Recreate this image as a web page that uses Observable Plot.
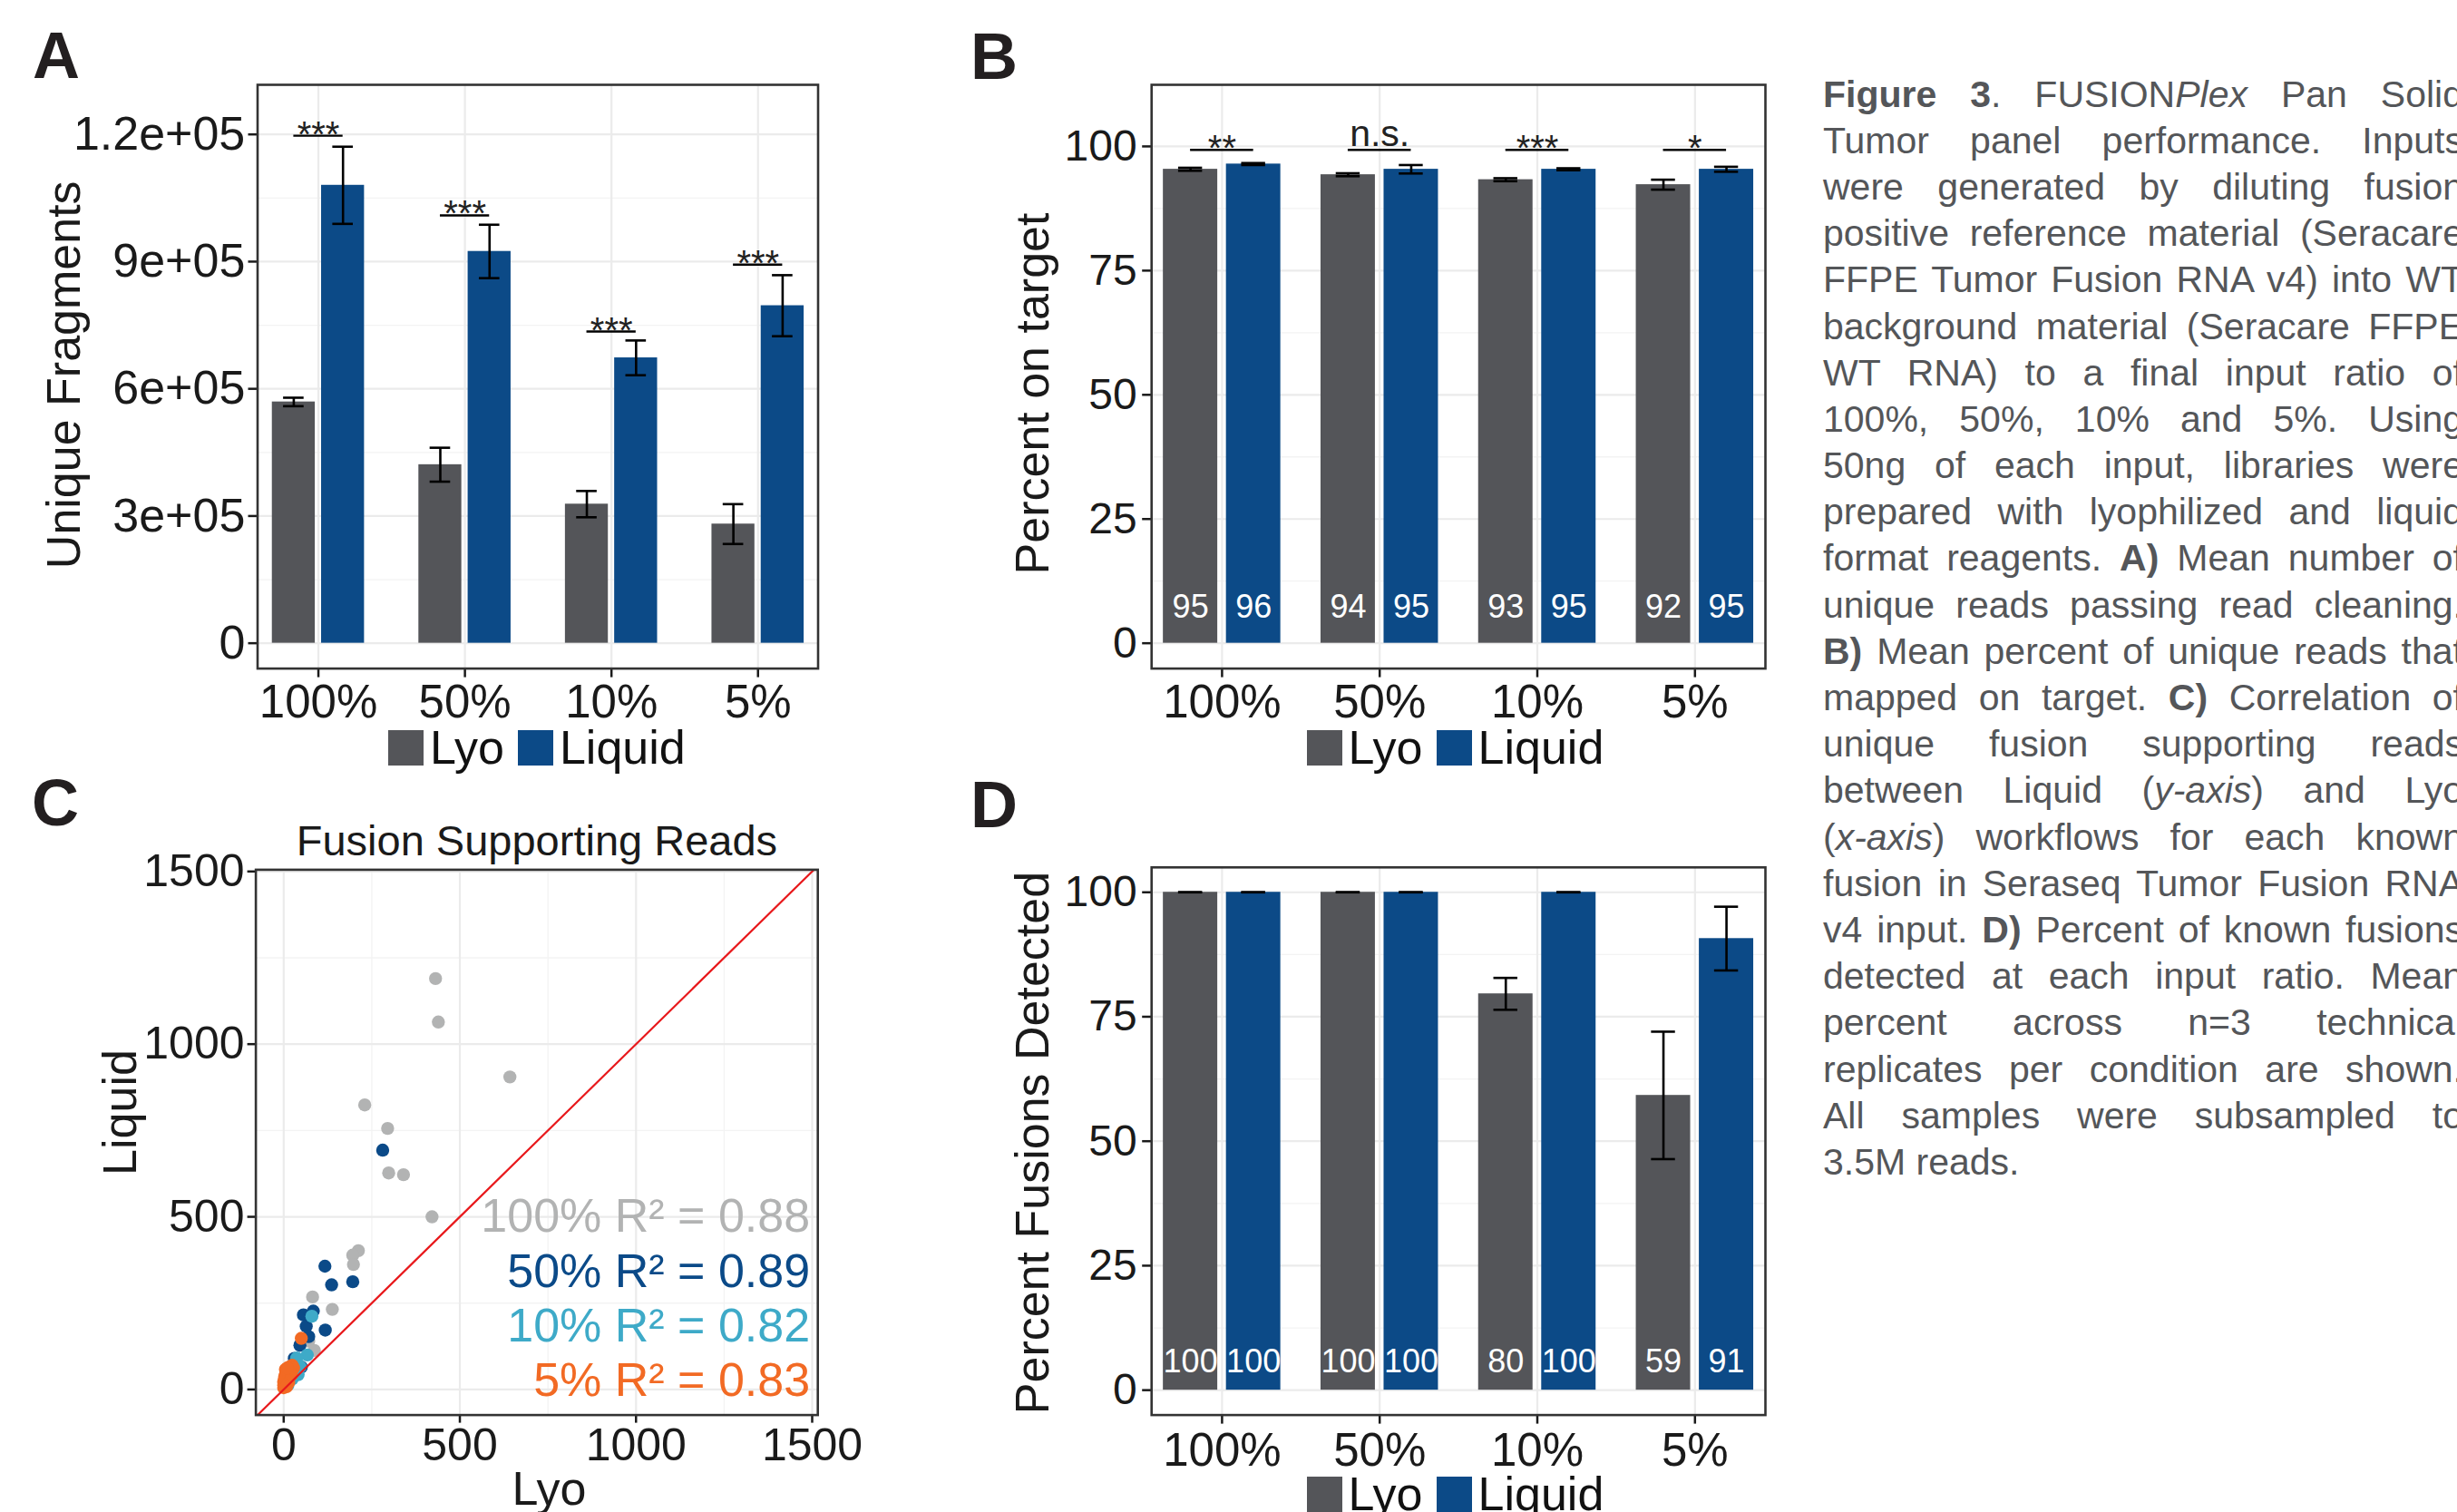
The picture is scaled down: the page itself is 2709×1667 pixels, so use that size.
<!DOCTYPE html>
<html>
<head>
<meta charset="utf-8">
<title>Figure 3</title>
<script src="https://cdn.jsdelivr.net/npm/d3@7"></script>
<script src="https://cdn.jsdelivr.net/npm/@observablehq/plot@0.6"></script>
<style>
html, body { margin: 0; padding: 0; background: #fff; }
#page { position: relative; width: 2709px; height: 1667px; overflow: hidden; background: #fff;
  font-family: "Liberation Sans", Arial, Helvetica, sans-serif; }
.panel { position: absolute; }
.letter { position: absolute; font-weight: bold; font-size: 72px; line-height: 72px; color: #231f20; }
.legend { position: absolute; display: flex; align-items: center; height: 39px; font-size: 52px; line-height: 39px; color: #111; white-space: nowrap; }
.sw { display: inline-block; width: 39px; height: 39px; }
#caption { position: absolute; left: 2010px; top: 78.6px; font-size: 41px; line-height: 51.2px; color: #545659; }
#caption .ln { white-space: nowrap; height: 51.2px; }
#caption .inner { display: inline-block; transform-origin: 0 50%; }
</style>
</head>
<body>
<div id="page">
  <div class="panel" id="panelA" style="left:0px;top:80px;width:940px"></div>
  <div class="panel" id="panelB" style="left:1000px;top:80px;width:960px"></div>
  <div class="panel" id="panelC" style="left:0px;top:880px;width:960px"></div>
  <div class="panel" id="panelD" style="left:1000px;top:940px;width:960px"></div>
  <div class="letter" style="left:36px;top:24.6px">A</div>
  <div class="letter" style="left:1070px;top:26.2px">B</div>
  <div class="letter" style="left:35px;top:848.6px">C</div>
  <div class="letter" style="left:1070px;top:850.6px">D</div>
  <div id="caption"></div>
</div>
<script>
// ---------- shared categories ----------
const categories = ["100%", "50%", "10%", "5%"];
const groupNames = ["Lyo", "Liquid"];
const groupColors = ["#545559", "#0c4a87"];

// ---------- Panel A: unique fragments ----------
const fragmentsLyo = [569000, 421000, 328000, 281000];
const fragmentsLyoSE = [10000, 40000, 31000, 47000];
const fragmentsLiquid = [1080000, 924000, 673000, 796000];
const fragmentsLiquidSE = [91000, 63000, 41000, 72000];
const fragmentsSig = ["***", "***", "***", "***"];
const fragmentsSigY = [1197000, 1009000, 735000, 893000];
const fragmentsTicks = [0, 300000, 600000, 900000, 1200000];
const fragmentsTickLabels = ["0", "3e+05", "6e+05", "9e+05", "1.2e+05"];

// ---------- Panel B: percent on target ----------
const onTargetLyo = [95.4, 94.3, 93.3, 92.3];
const onTargetLyoSE = [0.3, 0.3, 0.3, 1.0];
const onTargetLiquid = [96.45, 95.4, 95.4, 95.4];
const onTargetLiquidSE = [0.2, 0.85, 0.2, 0.5];
const onTargetSig = ["**", "n.s.", "***", "*"];
const onTargetSigY = [99.3, 99.3, 99.3, 99.3];
const percentTicks = [0, 25, 50, 75, 100];

// ---------- Panel C: fusion supporting reads ----------
const fusionSeries = ["100%", "50%", "10%", "5%"];
const fusionColors = ["#b2b3b3", "#0b4a88", "#3eaac8", "#f26a24"];
const fusionR2 = [0.88, 0.89, 0.82, 0.83];
const fusion100Lyo    = [431, 439, 642, 230, 295, 298, 340, 421, 212, 196, 198, 82, 138, 87, 71, 30, 15];
const fusion100Liquid = [1190, 1064, 905, 824, 756, 627, 622, 500, 402, 389, 362, 268, 232, 113, 140, 70, 35];
const fusion50Lyo     = [281, 117, 136, 196, 56, 84, 64, 118, 71, 46, 50, 24, 30];
const fusion50Liquid  = [693, 357, 303, 312, 216, 227, 183, 172, 153, 128, 65, 52, 90];
const fusion10Lyo     = [80, 67, 37, 41, 24, 12, 47];
const fusion10Liquid  = [212, 100, 91, 43, 30, 13, 66];
const fusion5Lyo      = [50, 16, 24, 3, 0, 0, 7, 28, 0, 12, 20, 2, 5, 14, 8, 22, 10];
const fusion5Liquid   = [148, 65, 70, 39, 22, 5, 52, 62, 12, 30, 48, 32, 58, 20, 8, 42, 62];
const readsTicks = [0, 500, 1000, 1500];

// ---------- Panel D: percent fusions detected ----------
const detectedLyo = [100, 100, 79.6, 59.2];
const detectedLyoSE = [0, 0, 3.2, 12.8];
const detectedLiquid = [100, 100, 100, 90.7];
const detectedLiquidSE = [0, 0, 0, 6.4];

// ---------- caption ----------
const captionLines = [
  "<b>Figure 3</b>. FUSION<i>Plex</i> Pan Solid",
  "Tumor panel performance. Inputs",
  "were generated by diluting fusion",
  "positive reference material (Seracare",
  "FFPE Tumor Fusion RNA v4) into WT",
  "background material (Seracare FFPE",
  "WT RNA) to a final input ratio of",
  "100%, 50%, 10% and 5%. Using",
  "50ng of each input, libraries were",
  "prepared with lyophilized and liquid",
  "format reagents. <b>A)</b> Mean number of",
  "unique reads passing read cleaning.",
  "<b>B)</b> Mean percent of unique reads that",
  "mapped on target. <b>C)</b> Correlation of",
  "unique fusion supporting reads",
  "between Liquid (<i>y-axis</i>) and Lyo",
  "(<i>x-axis</i>) workflows for each known",
  "fusion in Seraseq Tumor Fusion RNA",
  "v4 input. <b>D)</b> Percent of known fusions",
  "detected at each input ratio. Mean",
  "percent across n=3 technical",
  "replicates per condition are shown.",
  "All samples were subsampled to",
  "3.5M reads."
];

// ---------- styles ----------
const FONT = "'Liberation Sans', Arial, Helvetica, sans-serif";
const MAJOR = "#ebebeb", MINOR = "#f3f3f3";
const FRAME = "#333333";
const TEXT = "#1a1a1a";
const positions = categories.map((c, i) => i + 1);

function midpoints(ticks) { return d3.pairs(ticks, (a, b) => (a + b) / 2); }

function barPanel(el, cfg) {
  const rows = categories.flatMap((c, i) => groupNames.map((g, k) => ({
    cat: c, pos: i + 1, group: g, k,
    value: cfg.values[k][i], se: cfg.errors[k][i]
  })));
  const xc = d => d.pos + (d.k === 0 ? -cfg.offset : cfg.offset);
  const sigRows = categories.map((c, i) => ({pos: i + 1, y: cfg.sigY[i], label: cfg.sig[i]})).filter(d => d.label);
  const err = {stroke: "#000", strokeWidth: 2.6};
  const marks = [
    Plot.gridY({ticks: midpoints(cfg.yTicks), stroke: MINOR, strokeOpacity: 1, strokeWidth: 1.3}),
    Plot.gridY({ticks: cfg.yTicks, stroke: MAJOR, strokeOpacity: 1, strokeWidth: 2.2}),
    Plot.gridX({ticks: positions, stroke: MAJOR, strokeOpacity: 1, strokeWidth: 2.2}),
    Plot.rect(rows, {x1: d => xc(d) - cfg.barWidth / 2, x2: d => xc(d) + cfg.barWidth / 2, y1: 0, y2: "value", fill: "group"}),
    Plot.ruleX(rows, {x: xc, y1: d => d.value - d.se, y2: d => d.value + d.se, ...err}),
    Plot.ruleY(rows, {y: d => d.value + d.se, x1: d => xc(d) - cfg.cap, x2: d => xc(d) + cfg.cap, ...err}),
    Plot.ruleY(rows, {y: d => d.value - d.se, x1: d => xc(d) - cfg.cap, x2: d => xc(d) + cfg.cap, ...err}),
    Plot.ruleY(sigRows, {y: "y", x1: d => d.pos - cfg.offset, x2: d => d.pos + cfg.offset, stroke: "#000", strokeWidth: 2.4}),
    Plot.text(sigRows.filter(d => d.label !== "n.s."), {x: "pos", y: "y", text: "label", fontSize: 40, lineAnchor: "bottom", dy: 12, fill: "#222"}),
    Plot.text(sigRows.filter(d => d.label === "n.s."), {x: "pos", y: "y", text: "label", fontSize: 41, lineAnchor: "bottom", dy: -4, fill: "#222"})
  ];
  if (cfg.valueLabelY != null) {
    marks.push(Plot.text(rows, {x: xc, y: cfg.valueLabelY, text: d => String(Math.round(d.value)), fill: "white", fontSize: 36}));
  }
  marks.push(
    Plot.axisX({ticks: positions, tickFormat: p => categories[p - 1], fontSize: 51, tickSize: 10, tickPadding: cfg.xPad, strokeWidth: 2.5, color: TEXT, label: null}),
    Plot.axisY({ticks: cfg.yTicks, tickFormat: cfg.yFormat, fontSize: cfg.yFont, tickSize: 10, tickPadding: cfg.yPad, strokeWidth: 2.5, color: TEXT, label: null}),
    Plot.text([cfg.title], {text: d => d, frameAnchor: "left", textAnchor: "middle", lineAnchor: "middle", rotate: -90, dx: cfg.titleDx, dy: cfg.titleDy, fontSize: 52, fill: TEXT}),
    Plot.frame({stroke: FRAME, strokeWidth: 2.6})
  );
  const chart = Plot.plot({
    width: cfg.width, height: cfg.height,
    marginLeft: cfg.ml, marginRight: cfg.mr, marginTop: cfg.mt, marginBottom: cfg.mb,
    style: {fontFamily: FONT, background: "transparent", overflow: "visible"},
    x: {type: "linear", domain: cfg.xDomain},
    y: {type: "linear", domain: cfg.yDomain},
    color: {type: "ordinal", domain: groupNames, range: groupColors},
    marks
  });
  el.appendChild(chart);
}

function legend(left, top) {
  const div = document.createElement("div");
  div.className = "legend";
  div.style.left = left + "px";
  div.style.top = top + "px";
  groupNames.forEach((g, k) => {
    const sw = document.createElement("span");
    sw.className = "sw";
    sw.style.background = groupColors[k];
    if (k > 0) sw.style.marginLeft = "15px";
    const tx = document.createElement("span");
    tx.textContent = g;
    tx.style.marginLeft = "7px";
    div.appendChild(sw); div.appendChild(tx);
  });
  document.getElementById("page").appendChild(div);
}

// Panel A
barPanel(document.getElementById("panelA"), {
  values: [fragmentsLyo, fragmentsLiquid], errors: [fragmentsLyoSE, fragmentsLiquidSE],
  sig: fragmentsSig, sigY: fragmentsSigY,
  yTicks: fragmentsTicks, yFormat: v => fragmentsTickLabels[fragmentsTicks.indexOf(v)], yFont: 52,
  yDomain: [-59800, 1317000], xDomain: [0.585, 4.41],
  offset: 0.168, barWidth: 0.293, cap: 0.07,
  width: 940, height: 720, ml: 283.5, mr: 38.5, mt: 13, mb: 63.4,
  xPad: 7.4, yPad: 3.7,
  title: "Unique Fragments", titleDx: -212.5, titleDy: -2,
  valueLabelY: null
});
legend(428, 805);

// Panel B
barPanel(document.getElementById("panelB"), {
  values: [onTargetLyo, onTargetLiquid], errors: [onTargetLyoSE, onTargetLiquidSE],
  sig: onTargetSig, sigY: onTargetSigY,
  yTicks: percentTicks, yFormat: v => String(v), yFont: 48,
  yDomain: [-5.1, 112.4], xDomain: [0.553, 4.447],
  offset: 0.2, barWidth: 0.345, cap: 0.076,
  width: 960, height: 720, ml: 269.2, mr: 14, mt: 13, mb: 63.4,
  xPad: 7.6, yPad: 6,
  title: "Percent on target", titleDx: -130.4, titleDy: 18.7,
  valueLabelY: 7.3
});
legend(1440.6, 805);

// Panel D
barPanel(document.getElementById("panelD"), {
  values: [detectedLyo, detectedLiquid], errors: [detectedLyoSE, detectedLiquidSE],
  sig: [], sigY: [],
  yTicks: percentTicks, yFormat: v => String(v), yFont: 48,
  yDomain: [-5, 105], xDomain: [0.553, 4.447],
  offset: 0.2, barWidth: 0.345, cap: 0.076,
  width: 960, height: 727, ml: 269.2, mr: 14, mt: 15.8, mb: 107.4,
  xPad: 9.4, yPad: 6,
  title: "Percent Fusions Detected", titleDx: -130.4, titleDy: 1.8,
  valueLabelY: 5.7
});
legend(1440.6, 1628);

// Panel C
(function () {
  const lyoSets = [fusion100Lyo, fusion50Lyo, fusion10Lyo, fusion5Lyo];
  const liqSets = [fusion100Liquid, fusion50Liquid, fusion10Liquid, fusion5Liquid];
  const series = fusionSeries.map((name, k) => ({
    name, color: fusionColors[k],
    label: `${name} R\u00B2 = ${fusionR2[k].toFixed(2)}`,
    rows: lyoSets[k].map((x, j) => ({lyo: x, liquid: liqSets[k][j]}))
  }));
  const xDomain = [-79, 1516], yDomain = [-74, 1505];
  const identityRange = [Math.min(xDomain[0], yDomain[0]) - 50, Math.max(xDomain[1], yDomain[1]) + 50];
  const marks = [
    Plot.gridX({ticks: midpoints(readsTicks), stroke: MINOR, strokeOpacity: 1, strokeWidth: 1.3}),
    Plot.gridY({ticks: midpoints(readsTicks), stroke: MINOR, strokeOpacity: 1, strokeWidth: 1.3}),
    Plot.gridX({ticks: readsTicks, stroke: MAJOR, strokeOpacity: 1, strokeWidth: 2.2}),
    Plot.gridY({ticks: readsTicks, stroke: MAJOR, strokeOpacity: 1, strokeWidth: 2.2}),
    ...series.map(s => Plot.dot(s.rows, {x: "lyo", y: "liquid", r: 7.2, fill: s.color, stroke: "none"})),
    Plot.line(identityRange, {x: d => d, y: d => d, stroke: "#e8191c", strokeWidth: 2.2, clip: true}),
    ...series.map((s, k) => Plot.text([s.label], {
      text: d => d, frameAnchor: "bottom-right", textAnchor: "end", lineAnchor: "middle",
      dx: -8.6, dy: -37.6 - (series.length - 1 - k) * 60.3, fill: s.color, fontSize: 52
    })),
    Plot.axisX({ticks: readsTicks, tickFormat: v => String(v), fontSize: 50, tickSize: 9, tickPadding: 5.4, strokeWidth: 2.5, color: TEXT, label: null}),
    Plot.axisY({ticks: readsTicks, tickFormat: v => String(v), fontSize: 50, tickSize: 9, tickPadding: 3.6, strokeWidth: 2.5, color: TEXT, label: null}),
    Plot.text(["Fusion Supporting Reads"], {text: d => d, frameAnchor: "top", textAnchor: "middle", lineAnchor: "bottom", dy: -15.7, fontSize: 47, fill: TEXT}),
    Plot.text(["Lyo"], {text: d => d, frameAnchor: "bottom", textAnchor: "middle", lineAnchor: "bottom", dx: 13.6, dy: 98.4, fontSize: 52, fill: TEXT}),
    Plot.text(["Liquid"], {text: d => d, frameAnchor: "left", textAnchor: "middle", lineAnchor: "middle", rotate: -90, dx: -148.6, dy: -33, fontSize: 52, fill: TEXT}),
    Plot.frame({stroke: FRAME, strokeWidth: 2.6})
  ];
  const chart = Plot.plot({
    width: 960, height: 787,
    marginLeft: 281.6, marginRight: 58.8, marginTop: 78.4, marginBottom: 107.4,
    style: {fontFamily: FONT, background: "transparent", overflow: "visible"},
    x: {type: "linear", domain: xDomain},
    y: {type: "linear", domain: yDomain},
    marks
  });
  document.getElementById("panelC").appendChild(chart);
})();

// Caption (justified line by line)
const CAPTION_WIDTH = 706;
const cap = document.getElementById("caption");
const inners = captionLines.map(html => {
  const ln = document.createElement("div");
  ln.className = "ln";
  const inner = document.createElement("span");
  inner.className = "inner";
  inner.innerHTML = html;
  ln.appendChild(inner);
  cap.appendChild(ln);
  return inner;
});
function justify() {
  inners.forEach((inner, idx) => {
    inner.style.wordSpacing = "0px";
    inner.style.transform = "none";
    if (idx === inners.length - 1) return;
    const w = inner.getBoundingClientRect().width;
    const spaces = (inner.textContent.match(/ /g) || []).length;
    if (w <= CAPTION_WIDTH && spaces > 0) {
      inner.style.wordSpacing = ((CAPTION_WIDTH - w) / spaces) + "px";
    } else if (w > CAPTION_WIDTH) {
      inner.style.transform = `scaleX(${CAPTION_WIDTH / w})`;
    }
  });
}
justify();
if (document.fonts && document.fonts.ready) document.fonts.ready.then(justify);
</script>
</body>
</html>
